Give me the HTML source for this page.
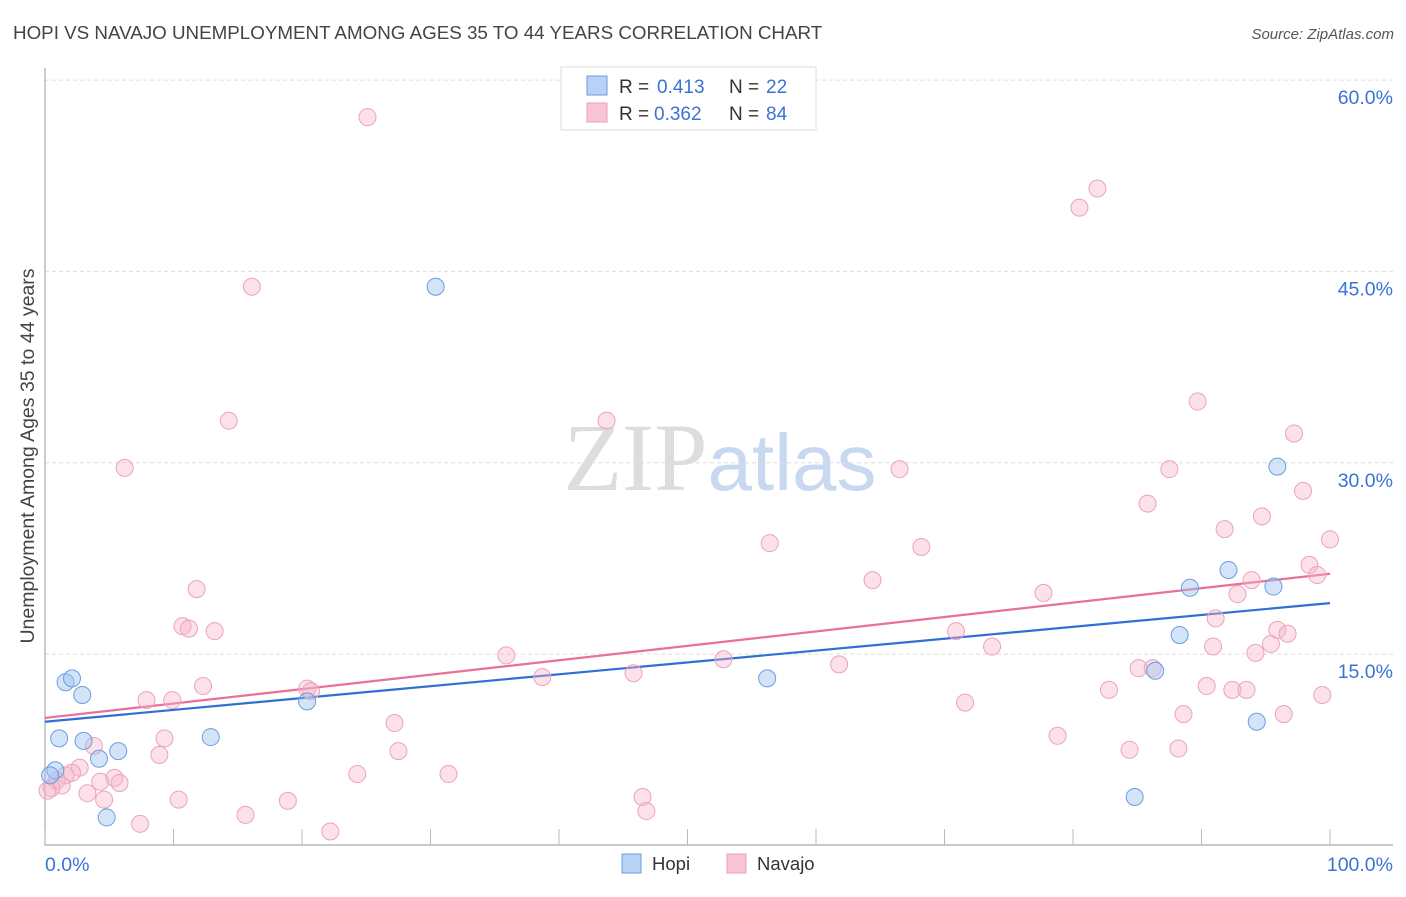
<!DOCTYPE html>
<html><head><meta charset="utf-8"><style>
body{margin:0;background:#fff;font-family:"Liberation Sans",sans-serif}
svg text{font-family:"Liberation Sans",sans-serif}
</style></head><body>
<svg id="chart" width="1406" height="892" viewBox="0 0 1406 892" xmlns="http://www.w3.org/2000/svg">
<text x="13" y="39" font-size="18.8" fill="#444">HOPI VS NAVAJO UNEMPLOYMENT AMONG AGES 35 TO 44 YEARS CORRELATION CHART</text>
<text x="1394" y="39" font-size="15" font-style="italic" fill="#555" text-anchor="end">Source: ZipAtlas.com</text>
<text x="720" y="490" text-anchor="middle" font-size="96"><tspan font-family="Liberation Serif,serif" fill="#ddd">ZIP</tspan><tspan fill="#c8d8f0" font-size="80">atlas</tspan></text>
<text transform="translate(34,456) rotate(-90)" text-anchor="middle" font-size="19.5" fill="#444">Unemployment Among Ages 35 to 44 years</text>
<g id="grid"></g><g id="axes"></g><g id="trends"></g><g id="pts"></g>
<g>
<rect x="561" y="67" width="255" height="63" fill="#fff" stroke="#ddd"/>
<rect x="587" y="76" width="20" height="19" fill="#b8d2f5" stroke="#6a9ee0"/>
<text x="619" y="93" font-size="19" fill="#333">R =</text>
<text x="657" y="93" font-size="19" fill="#3b72d6">0.413</text>
<text x="729" y="93" font-size="19" fill="#333">N =</text>
<text x="766" y="93" font-size="19" fill="#3b72d6">22</text>
<rect x="587" y="103" width="20" height="19" fill="#f9c5d5" stroke="#e8a0b8"/>
<text x="619" y="120" font-size="19" fill="#333">R =</text>
<text x="654" y="120" font-size="19" fill="#3b72d6">0.362</text>
<text x="729" y="120" font-size="19" fill="#333">N =</text>
<text x="766" y="120" font-size="19" fill="#3b72d6">84</text>
</g>
<g>
<rect x="622" y="854" width="19" height="19" fill="#b8d2f5" stroke="#6a9ee0"/>
<text x="652" y="870" font-size="18.5" fill="#333">Hopi</text>
<rect x="727" y="854" width="19" height="19" fill="#f9c5d5" stroke="#e8a0b8"/>
<text x="757" y="870" font-size="18.5" fill="#333">Navajo</text>
</g>
</svg>
<script>
const yTicks=[15,30,45,60];
const yTickLabels=["15.0%","30.0%","45.0%","60.0%"];
const xTicks=[0,10,20,30,40,50,60,70,80,90,100];
const xEndLabels=["0.0%","100.0%"];
const hopiX=[30.4,95.9,92.1,89.1,95.6,88.3,56.2,86.4,94.3,20.4,1.6,2.1,2.9,1.1,3.0,12.9,5.7,4.2,0.8,0.4,4.8,84.8];
const hopiY=[43.8,29.7,21.6,20.2,20.3,16.5,13.1,13.7,9.7,11.3,12.8,13.1,11.8,8.4,8.2,8.5,7.4,6.8,5.9,5.5,2.2,3.8];
const navX=[25.1,81.9,80.5,16.1,14.3,43.7,89.7,6.2,66.5,87.5,97.2,97.9,85.8,94.7,100,91.8,56.4,68.2,64.4,98.4,99.0,11.8,93.9,92.8,77.7,10.7,11.2,13.2,91.1,95.9,96.7,70.9,95.4,73.7,90.9,94.2,35.9,52.8,61.8,45.8,38.7,85.1,86.2,12.3,20.4,20.7,82.8,90.4,92.4,93.5,99.4,7.9,9.9,71.6,88.6,96.4,27.2,9.3,78.8,3.8,8.9,27.5,84.4,88.2,2.7,1.6,24.3,31.4,5.4,4.3,5.8,0.9,1.3,3.3,0.5,10.4,4.6,18.9,46.5,46.8,15.6,7.4,22.2,0.2,2.1];
const navY=[57.1,51.5,50.0,43.8,33.3,33.3,34.8,29.6,29.5,29.5,32.3,27.8,26.8,25.8,24.0,24.8,23.7,23.4,20.8,22.0,21.2,20.1,20.8,19.7,19.8,17.2,17.0,16.8,17.8,16.9,16.6,16.8,15.8,15.6,15.6,15.1,14.9,14.6,14.2,13.5,13.2,13.9,13.9,12.5,12.3,12.1,12.2,12.5,12.2,12.2,11.8,11.4,11.4,11.2,10.3,10.3,9.6,8.4,8.6,7.8,7.1,7.4,7.5,7.6,6.1,5.5,5.6,5.6,5.3,5.0,4.9,5.1,4.7,4.1,4.5,3.6,3.6,3.5,3.8,2.7,2.4,1.7,1.1,4.3,5.7];
const hopiTrend=[9.7,19.0];
const navTrend=[10.0,21.3];
const NS="http://www.w3.org/2000/svg";
const X=v=>45+v*12.85, Y=v=>845.5-v*12.757;
function mk(t,a,p){const e=document.createElementNS(NS,t);for(const k in a)e.setAttribute(k,a[k]);p.appendChild(e);return e;}
const grid=document.getElementById('grid'),axes=document.getElementById('axes'),tr=document.getElementById('trends'),pts=document.getElementById('pts');
yTicks.forEach((v,i)=>{
 const l=mk('line',{x1:45,x2:1393,y1:Y(v),y2:Y(v),stroke:'#ddd','stroke-dasharray':'4,3'},grid);
 
 
 const t=mk('text',{x:1393,y:Y(v)+24,'text-anchor':'end','font-size':19.5,fill:'#3b72d6'},grid);
 t.textContent=yTickLabels[i];
 
 
});
const ax=mk('path',{d:'M45,68V845H1393',fill:'none',stroke:'#aaa','stroke-width':1.2},axes);


xTicks.forEach(v=>{
 const l=mk('line',{x1:X(v),x2:X(v),y1:829,y2:845,stroke:'#bbb'},axes);
 
 
});
[[0,'start',45],[100,'end',1393]].forEach((a,i)=>{
 const t=mk('text',{x:a[2],y:871,'text-anchor':a[1],'font-size':19.5,fill:'#3b72d6'},axes);
 t.textContent=xEndLabels[i];
 
 
});
function dots(xs,ys,fill,stroke,name){xs.forEach((x,i)=>{
 const c=mk('circle',{cx:X(x),cy:Y(ys[i]),r:8.5,fill:fill,stroke:stroke,'stroke-width':1},pts);
 
 
});}
dots(navX,navY,'rgba(248,180,200,0.4)','#eba3bb','navajo-point');
dots(hopiX,hopiY,'rgba(160,196,240,0.45)','#6a9ee0','hopi-point');
const t1=mk('line',{x1:X(0),y1:Y(hopiTrend[0]),x2:X(100),y2:Y(hopiTrend[1]),stroke:'#2f6fd6','stroke-width':2.2},tr);


const t2=mk('line',{x1:X(0),y1:Y(navTrend[0]),x2:X(100),y2:Y(navTrend[1]),stroke:'#e8709a','stroke-width':2.2},tr);


</script>
</body></html>
